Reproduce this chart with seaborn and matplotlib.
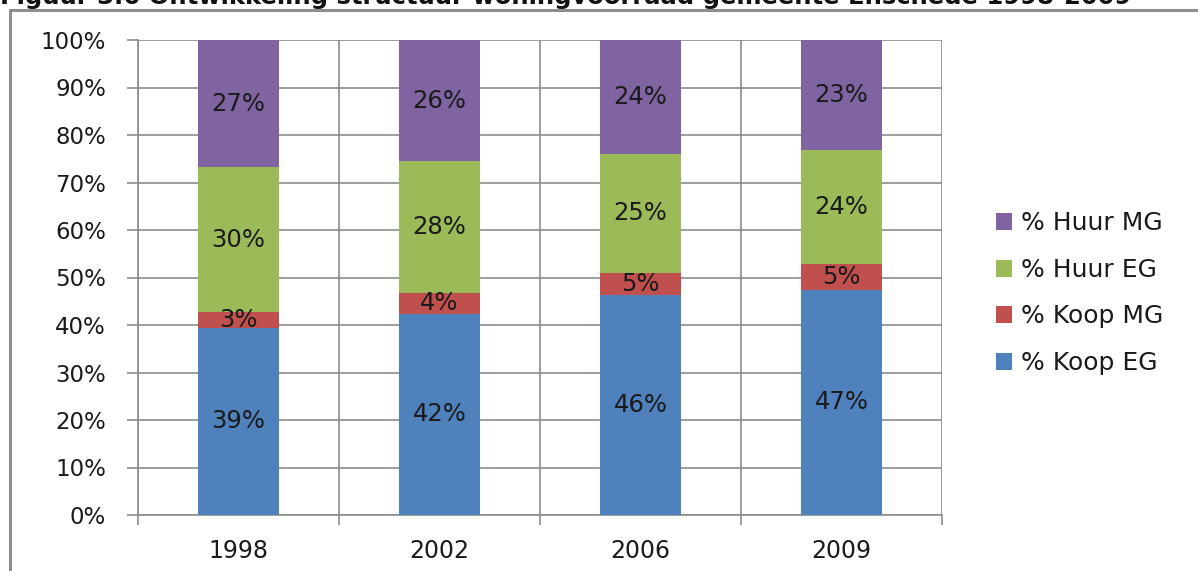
import matplotlib
matplotlib.use("Agg")
import matplotlib.pyplot as plt
from matplotlib.lines import Line2D
from matplotlib.patches import Patch
import numpy as np
import pandas as pd
import seaborn as sns

# Housing stock structure, share per segment (%)
years = ["1998", "2002", "2006", "2009"]
koop_eg = [39.4, 42.4, 46.3, 47.4]
koop_mg = [3.4, 4.3, 4.7, 5.4]
huur_eg = [30.4, 27.8, 25.1, 24.1]
huur_mg = [26.8, 25.5, 23.9, 23.1]

series_names = ["% Koop EG", "% Koop MG", "% Huur EG", "% Huur MG"]
series_values = [koop_eg, koop_mg, huur_eg, huur_mg]
colors = ["#4F81BD", "#C0504D", "#9BBB59", "#8064A2"]
y_ticks = list(range(0, 101, 10))
title = "Figuur 3.6 Ontwikkeling structuur woningvoorraad gemeente Enschede 1998-2009"

sns.set_theme(style="white")
plt.rcParams["font.family"] = ["DejaVu Sans"]

fig = plt.figure(figsize=(11.98, 5.71), dpi=100)
ax = fig.add_axes([138 / 1198, 1 - 515 / 571, (942 - 138) / 1198, (515 - 40) / 571])

# Stacked bars: draw cumulative totals from the top segment down
vals = np.array(series_values)
cum = np.cumsum(vals, axis=0)
for i in range(len(series_names) - 1, -1, -1):
    df = pd.DataFrame({"year": years, "value": cum[i]})
    sns.barplot(data=df, x="year", y="value", color=colors[i], width=0.4,
                saturation=1, ax=ax, edgecolor="none", linewidth=0, zorder=3)

# Segment value labels
for i in range(len(series_names)):
    for j in range(len(years)):
        mid = cum[i][j] - vals[i][j] / 2
        ax.text(j, mid, f"{vals[i][j]:.0f}%",
                ha="center", va="center", fontsize=17.5, color="#1a1a1a", zorder=5)

grid_c = "#8c8c8c"
ax.set_xlim(-0.5, len(years) - 0.5)
ax.set_ylim(0, 100)
ax.set_yticks(y_ticks)
ax.set_yticklabels([f"{t}%" for t in y_ticks])
ax.set_xticks(range(len(years)))
ax.set_xticklabels(years)
ax.set_xticks(np.arange(-0.5, len(years), 1.0), minor=True)
ax.set_xlabel("")
ax.set_ylabel("")

ax.grid(True, axis="y", which="major", color=grid_c, linewidth=1.2, zorder=0)
ax.grid(True, axis="x", which="minor", color=grid_c, linewidth=1.2, zorder=0)
ax.grid(False, axis="x", which="major")
ax.set_axisbelow(True)

for side in ["top", "right"]:
    ax.spines[side].set_visible(False)
for side in ["left", "bottom"]:
    ax.spines[side].set_color(grid_c)
    ax.spines[side].set_linewidth(1.2)

ax.tick_params(axis="y", which="major", direction="out", length=8, width=1.2,
               color=grid_c, pad=15, labelsize=16.5, labelcolor="#1a1a1a", left=True)
ax.tick_params(axis="x", which="major", length=0, pad=17, labelsize=17,
               labelcolor="#1a1a1a")
ax.tick_params(axis="x", which="minor", direction="out", length=7, width=1.2,
               color=grid_c, bottom=True)

# Legend, top segment first
handles = [Patch(facecolor=colors[i], edgecolor="none") for i in range(len(series_names) - 1, -1, -1)]
labels = series_names[::-1]
fig.legend(handles, labels, loc="upper left", bbox_to_anchor=(983 / 1198, 1 - 199 / 571),
           frameon=False, fontsize=18, handlelength=0.65, handleheight=0.65,
           handletextpad=0.35, labelspacing=0.9, borderpad=0, labelcolor="#1a1a1a")

# Outer frame and the clipped heading above it
fig.add_artist(Line2D([10 / 1198, 1.0], [1 - 10 / 571, 1 - 10 / 571],
                      transform=fig.transFigure, color="#8f8f8f", linewidth=2.2))
fig.add_artist(Line2D([10 / 1198, 10 / 1198], [0.0, 1 - 10 / 571],
                      transform=fig.transFigure, color="#8f8f8f", linewidth=2.2))
fig.text(0.0, 1 - 4 / 571, title, ha="left", va="baseline", fontsize=17.5,
         fontweight="bold", color="#111111")

fig.savefig("out.png", dpi=100)
